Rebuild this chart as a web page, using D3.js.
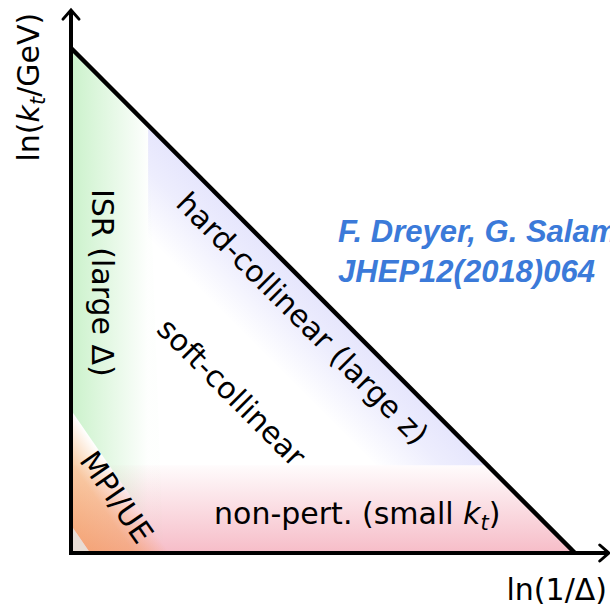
<!DOCTYPE html>
<html>
<head>
<meta charset="utf-8">
<title>Lund plane regions</title>
<script src="https://cdnjs.cloudflare.com/ajax/libs/d3/7.8.5/d3.min.js"></script>
<style>
  html, body { margin: 0; padding: 0; background: #fff; overflow: hidden; }
  svg { display: block; font-family: "DejaVu Sans", sans-serif; }
  .ref { font-family: "Liberation Sans", Arial, sans-serif; font-weight: bold; font-style: italic; fill: #3b7ad9; }
</style>
</head>
<body>
<div id="draw"></div>
<script>
// Lund plane in axis units: x = ln(1/Delta), y = ln(kt/GeV), both scaled to 0..1
var triangle = [[0, 0], [0, 1], [1, 0]];
var axisEnd = [1.067, 1.075];        // where the arrows stop
var isrEdge = 0.153;                 // ISR band: x < isrEdge
var npEdge = 0.174;                  // non-pert band: y < npEdge
var hcEdge = 0.776;                  // hard-collinear band: x + y > hcEdge
var mpiInner = [0.038, 0.055];       // MPI/UE band, x and y intercepts of its edges
var mpiOuter = [0.196, 0.283];

var labels = ["hard-collinear (large z)", "soft-collinear", "ISR (large Δ)", "MPI/UE"];
var labelPos = [[0.460, 0.465], [0.319, 0.319], [0.0625, 0.535], [0.091, 0.111]];
var labelDir = ["diag", "diag", "down", "mpi"];
var npLabel = ["non-pert. (small ", "k", "t", ")"];
var npPos = [0.568, 0.0574];
var yLabel = ["ln(", "k", "t", "/GeV)"];
var xLabel = "ln(1/Δ)";
var refLines = ["F. Dreyer, G. Salam, G. Soyez", "JHEP12(2018)064"];
var refPos = [0.530, 0.616];

var W = 610, H = 606;
var x = d3.scaleLinear().domain([0, 1]).range([71, 575]);
var y = d3.scaleLinear().domain([0, 1]).range([553, 48]);
function px(d) { return [x(d[0]), y(d[1])]; }
// foot of the perpendicular from p onto line ab
function foot(p, a, b) {
  var dx = b[0] - a[0], dy = b[1] - a[1];
  var t = ((p[0] - a[0]) * dx + (p[1] - a[1]) * dy) / (dx * dx + dy * dy);
  return [a[0] + t * dx, a[1] + t * dy];
}
function angle(a, b) { return Math.atan2(b[1] - a[1], b[0] - a[0]) * 180 / Math.PI; }
var line = d3.line();

var svg = d3.select('#draw').append('svg').attr('width', W).attr('height', H);
var defs = svg.append('defs');

defs.append('clipPath').attr('id', 'tri')
  .append('path').attr('d', line(triangle.map(px)) + 'Z');

function grad(id, p1, p2, stops) {
  var g = defs.append('linearGradient').attr('id', id)
    .attr('gradientUnits', 'userSpaceOnUse')
    .attr('x1', p1[0]).attr('y1', p1[1]).attr('x2', p2[0]).attr('y2', p2[1]);
  stops.forEach(function(s) {
    g.append('stop').attr('offset', s[0]).attr('stop-color', s[1]).attr('stop-opacity', s[2]);
  });
}

var hypA = px([0, 1]), hypB = px([1, 0]);
var hcIn = px([isrEdge, hcEdge - isrEdge]);
var mA1 = px([mpiInner[0], 0]), mA2 = px([0, mpiInner[1]]);
var mB1 = px([mpiOuter[0], 0]), mB2 = px([0, mpiOuter[1]]);

grad('gNP', px([0, npEdge]), px([0, 0]), [[0, '#e8506e', 0.02], [1, '#e8506e', 0.38]]);
grad('gISR', px([0, 0]), px([isrEdge, 0]), [[0, '#66d866', 0.34], [1, '#66d866', 0.01]]);
grad('gHC', hcIn, foot(hcIn, hypA, hypB), [[0, '#6a6af0', 0.0], [0.6, '#6a6af0', 0.12], [1, '#6a6af0', 0.17]]);
grad('gMPI', mA1, foot(mA1, mB1, mB2), [[0, '#f29038', 0.55], [0.55, '#f29038', 0.45], [1, '#f29038', 0.0]]);

var fills = svg.append('g').attr('clip-path', 'url(#tri)');
fills.append('path')
  .attr('d', line([[0, npEdge], [1, npEdge], [1, 0], [0, 0]].map(px)) + 'Z')
  .attr('fill', 'url(#gNP)');
fills.append('path')
  .attr('d', line([hypA, px([isrEdge, 1 - isrEdge]), foot(px([isrEdge, 0]), mB1, mB2), mB2]) + 'Z')
  .attr('fill', 'url(#gISR)');
fills.append('path')
  .attr('d', line([[isrEdge, 1 - isrEdge], [1 - npEdge, npEdge], [hcEdge - npEdge, npEdge], [isrEdge, hcEdge - isrEdge]].map(px)) + 'Z')
  .attr('fill', 'url(#gHC)');
fills.append('path')
  .attr('d', line([mA1, mB1, mB2, mA2]) + 'Z')
  .attr('fill', 'url(#gMPI)');
fills.append('path')
  .attr('d', line([px([0, 0]), mA1, mA2]) + 'Z')
  .attr('fill', '#e8ddd5');

// hypotenuse and axes
svg.append('path').attr('d', line([hypA, hypB]))
  .attr('stroke', '#000').attr('stroke-width', 4.5).attr('fill', 'none');
var o = px([0, 0]);
var yTip = px([0, axisEnd[1]]), xTip = px([axisEnd[0], 0]);
svg.append('path').attr('d', line([[o[0], o[1] + 2], yTip]))
  .attr('stroke', '#000').attr('stroke-width', 4).attr('fill', 'none');
svg.append('path').attr('d', line([[o[0] - 2, o[1]], xTip]))
  .attr('stroke', '#000').attr('stroke-width', 4).attr('fill', 'none');
svg.append('path')
  .attr('d', line([[yTip[0] - 8, yTip[1] + 9], yTip, [yTip[0] + 8, yTip[1] + 9]]))
  .attr('stroke', '#000').attr('stroke-width', 3).attr('fill', 'none').attr('stroke-linecap', 'round');
svg.append('path')
  .attr('d', line([[xTip[0] - 9, xTip[1] - 8], xTip, [xTip[0] - 9, xTip[1] + 8]]))
  .attr('stroke', '#000').attr('stroke-width', 3).attr('fill', 'none').attr('stroke-linecap', 'round');

// region labels
var rot = { diag: angle(hypA, hypB), down: 90, mpi: angle(mB2, mB1) };
labels.forEach(function(t, i) {
  var p = px(labelPos[i]);
  svg.append('text')
    .attr('transform', 'translate(' + p[0] + ',' + p[1] + ') rotate(' + rot[labelDir[i]] + ')')
    .attr('text-anchor', 'middle').attr('dy', '0.36em')
    .attr('font-size', 30).text(t);
});

function mathText(sel, parts) {
  sel.append('tspan').text(parts[0]);
  sel.append('tspan').attr('font-style', 'italic').text(parts[1]);
  sel.append('tspan').attr('font-style', 'italic').attr('font-size', 21).attr('dy', 6).text(parts[2]);
  sel.append('tspan').attr('dy', -6).text(parts[3]);
}

var np = px(npPos);
mathText(svg.append('text').attr('x', np[0]).attr('y', np[1])
  .attr('text-anchor', 'middle').attr('font-size', 30), npLabel);

mathText(svg.append('text')
  .attr('transform', 'translate(' + (o[0] - 32) + ',' + (yTip[1] + 77) + ') rotate(-90)')
  .attr('text-anchor', 'middle').attr('font-size', 30), yLabel);

svg.append('text').attr('x', W - 3).attr('y', o[1] + 47)
  .attr('text-anchor', 'end').attr('font-size', 30).text(xLabel);

// citation, cut by the right edge as in the original slide
var rp = px(refPos);
refLines.forEach(function(t, i) {
  svg.append('text').attr('class', 'ref')
    .attr('x', rp[0]).attr('y', rp[1] + i * 40)
    .attr('font-size', 31).text(t);
});
</script>
</body>
</html>
